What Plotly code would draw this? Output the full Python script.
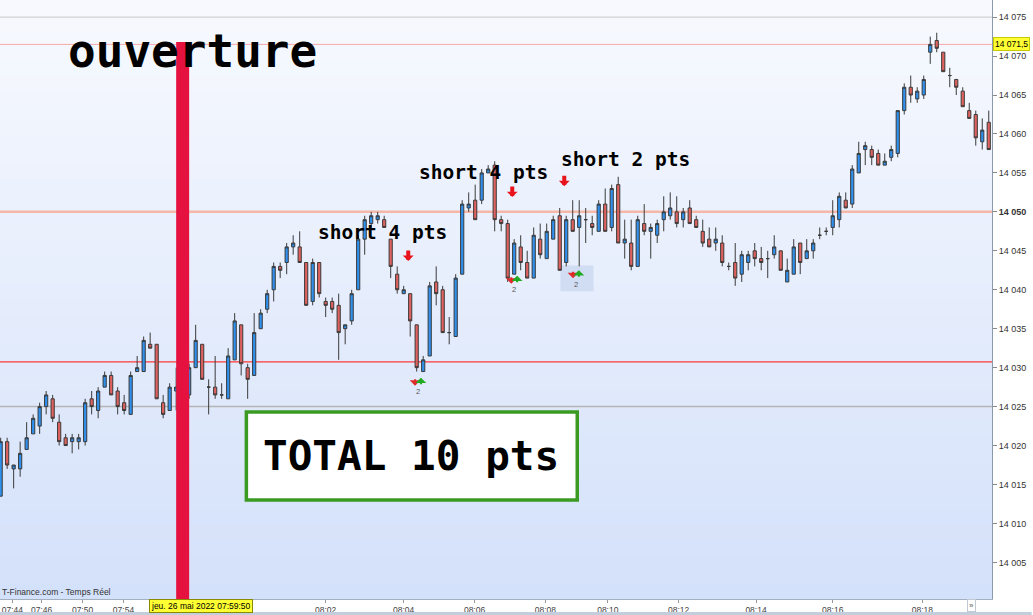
import plotly.graph_objects as go

# DAX 10s candles, 26 mai 2022, opening 08:00
opens = [
    14013.5, 14020.5, 14017.0, 14017.0, 14019.5, 14021.5, 14022.5, 14025.0, 14026.0, 14023.0,
    14021.0, 14020.5, 14020.5, 14020.5, 14026.0, 14024.5, 14027.5, 14029.0, 14027.0, 14025.5,
    14024.0, 14029.5, 14029.5, 14033.0, 14033.0, 14025.5, 14024.5, 14027.0, 14030.0, 14026.5,
    14030.0, 14033.0, 14027.5, 14027.5, 14026.5, 14026.0, 14031.0, 14035.5, 14030.0, 14029.0,
    14035.0, 14037.5, 14040.0, 14043.0, 14043.5, 14045.5, 14045.5, 14043.5, 14038.5, 14043.5,
    14038.5, 14038.5, 14038.0, 14035.0, 14036.0, 14040.0, 14046.5, 14048.5, 14049.0, 14049.0,
    14046.5, 14042.0, 14039.5, 14039.5, 14035.5, 14029.5, 14031.5, 14041.0, 14040.0, 14034.5,
    14034.0, 14042.0, 14050.5, 14051.5, 14051.5, 14055.0, 14056.0, 14049.0, 14048.5, 14042.0,
    14045.5, 14043.5, 14041.5, 14046.5, 14044.0, 14046.5, 14049.5, 14043.5, 14049.0, 14048.0,
    14049.0, 14048.5, 14047.5, 14051.0, 14048.0, 14053.5, 14046.0, 14046.0, 14043.0, 14048.5,
    14047.5, 14047.0, 14049.0, 14049.5, 14050.0, 14049.0, 14050.5, 14049.0, 14047.5, 14046.5,
    14046.0, 14046.0, 14043.0, 14043.5, 14042.0, 14043.5, 14045.0, 14044.0, 14044.0, 14044.5,
    14045.0, 14041.0, 14042.0, 14046.0, 14044.0, 14045.0, 14047.0, 14047.5, 14048.0, 14049.0,
    14051.5, 14051.0, 14055.0, 14058.0, 14058.0, 14057.5, 14056.0, 14057.0, 14057.5, 14063.0,
    14066.0, 14064.5, 14065.0, 14070.5, 14072.0, 14070.5, 14067.5, 14067.0, 14065.5, 14063.0,
    14062.5, 14059.0, 14061.5,
]
highs = [
    14021.0, 14021.0, 14017.5, 14020.5, 14023.0, 14024.0, 14025.5, 14027.0, 14026.5, 14024.0,
    14021.5, 14021.5, 14021.5, 14026.0, 14027.0, 14027.5, 14029.5, 14029.5, 14027.5, 14026.5,
    14029.5, 14031.5, 14034.0, 14034.5, 14033.0, 14026.5, 14028.0, 14030.0, 14031.0, 14030.5,
    14035.5, 14033.0, 14028.5, 14031.5, 14028.0, 14032.5, 14037.0, 14035.5, 14030.5, 14037.0,
    14037.5, 14040.0, 14043.5, 14043.5, 14046.0, 14047.0, 14047.5, 14043.5, 14044.0, 14043.5,
    14039.0, 14039.0, 14039.5, 14035.5, 14040.0, 14047.0, 14049.5, 14050.0, 14050.0, 14049.5,
    14046.5, 14043.0, 14040.5, 14039.5, 14035.5, 14031.5, 14041.0, 14043.0, 14040.5, 14036.5,
    14042.0, 14051.5, 14052.5, 14053.5, 14055.5, 14056.0, 14056.5, 14049.5, 14049.0, 14046.5,
    14047.0, 14045.0, 14048.0, 14048.5, 14048.5, 14049.5, 14050.5, 14049.5, 14051.5, 14051.5,
    14050.5, 14049.5, 14051.5, 14053.0, 14053.5, 14054.5, 14049.0, 14049.0, 14049.5, 14051.0,
    14048.5, 14049.0, 14052.0, 14052.5, 14052.0, 14050.5, 14051.5, 14049.5, 14049.0, 14048.0,
    14048.0, 14047.0, 14043.5, 14046.0, 14045.0, 14045.0, 14046.0, 14045.5, 14045.0, 14047.0,
    14045.0, 14044.0, 14046.5, 14046.0, 14046.5, 14046.5, 14048.0, 14048.0, 14051.5, 14052.5,
    14052.5, 14056.0, 14059.0, 14059.0, 14058.5, 14058.0, 14057.5, 14058.5, 14063.0, 14066.5,
    14067.5, 14066.0, 14067.5, 14072.5, 14073.0, 14070.5, 14068.5, 14067.0, 14066.0, 14064.0,
    14063.0, 14062.0, 14063.0,
]
lows = [
    14013.5, 14017.0, 14014.5, 14016.0, 14019.5, 14021.5, 14021.5, 14024.0, 14023.0, 14020.0,
    14020.0, 14019.0, 14019.5, 14020.0, 14024.0, 14023.5, 14027.5, 14026.5, 14024.0, 14024.0,
    14024.0, 14029.5, 14029.5, 14032.5, 14026.0, 14023.5, 14024.5, 14024.5, 14026.0, 14026.0,
    14030.0, 14028.5, 14024.0, 14026.0, 14026.0, 14026.0, 14031.0, 14029.0, 14026.0, 14029.0,
    14035.0, 14037.0, 14038.5, 14041.5, 14042.0, 14044.5, 14043.5, 14038.0, 14038.0, 14039.0,
    14036.5, 14037.0, 14031.0, 14033.0, 14035.5, 14040.0, 14044.5, 14048.0, 14048.5, 14048.0,
    14041.5, 14039.5, 14039.5, 14034.0, 14029.5, 14029.5, 14031.5, 14038.0, 14034.5, 14033.0,
    14034.0, 14042.0, 14050.0, 14049.0, 14051.0, 14055.0, 14047.5, 14047.5, 14041.0, 14042.0,
    14042.5, 14041.5, 14041.5, 14044.0, 14044.0, 14046.5, 14042.5, 14043.0, 14047.5, 14043.0,
    14046.0, 14047.0, 14047.5, 14047.5, 14047.5, 14046.0, 14044.0, 14042.5, 14043.0, 14047.0,
    14044.0, 14046.0, 14047.5, 14049.0, 14048.0, 14048.0, 14048.5, 14048.0, 14045.5, 14045.5,
    14045.0, 14043.0, 14042.5, 14040.5, 14041.0, 14042.5, 14043.0, 14042.5, 14041.5, 14044.0,
    14042.5, 14041.0, 14042.0, 14042.0, 14044.0, 14044.0, 14046.5, 14047.0, 14047.0, 14048.0,
    14050.5, 14050.5, 14055.0, 14056.0, 14056.0, 14056.0, 14056.0, 14056.5, 14057.0, 14062.5,
    14064.0, 14064.0, 14064.5, 14069.0, 14070.5, 14068.0, 14066.0, 14065.0, 14063.5, 14062.0,
    14058.5, 14058.0, 14058.0,
]
closes = [
    14020.5, 14017.5, 14017.5, 14019.0, 14021.0, 14023.5, 14025.0, 14026.5, 14023.5, 14020.5,
    14020.0, 14021.0, 14021.0, 14025.5, 14025.0, 14027.0, 14029.0, 14026.5, 14025.0, 14024.5,
    14029.0, 14030.0, 14033.5, 14032.5, 14026.0, 14024.0, 14027.5, 14027.5, 14027.0, 14030.0,
    14033.5, 14028.5, 14027.5, 14026.5, 14026.5, 14031.5, 14036.0, 14030.5, 14028.5, 14034.5,
    14037.0, 14039.5, 14043.0, 14042.5, 14045.5, 14046.0, 14043.5, 14038.0, 14043.5, 14039.5,
    14038.0, 14037.5, 14034.5, 14035.5, 14039.5, 14046.5, 14049.0, 14049.5, 14049.5, 14048.0,
    14043.0, 14040.0, 14040.0, 14036.0, 14030.0, 14031.0, 14040.5, 14039.5, 14034.5, 14034.5,
    14041.5, 14051.0, 14051.0, 14049.0, 14055.0, 14055.5, 14049.0, 14048.5, 14041.5, 14046.0,
    14043.5, 14041.5, 14047.0, 14044.5, 14047.5, 14049.0, 14042.5, 14049.0, 14047.5, 14049.5,
    14049.0, 14048.0, 14051.0, 14047.5, 14053.0, 14046.0, 14046.5, 14043.0, 14049.0, 14047.5,
    14048.0, 14048.5, 14050.0, 14050.5, 14048.5, 14050.0, 14048.5, 14048.0, 14046.0, 14045.5,
    14046.5, 14043.5, 14043.0, 14041.5, 14044.5, 14044.5, 14044.0, 14043.5, 14044.0, 14045.5,
    14042.5, 14042.5, 14045.5, 14043.5, 14045.0, 14046.0, 14047.0, 14047.5, 14049.5, 14052.0,
    14050.5, 14055.5, 14057.5, 14058.5, 14057.0, 14056.0, 14056.5, 14058.0, 14063.0, 14066.0,
    14065.0, 14065.5, 14067.0, 14071.5, 14071.0, 14068.0, 14067.5, 14066.0, 14063.5, 14062.0,
    14059.5, 14060.5, 14058.0,
]

# time axis labels (candle position of each label)
time_ticks = [1.8, 6.3, 12.6, 18.9, 50.0, 62.0, 72.9, 83.8, 93.4, 104.3, 116.2, 128.0, 141.8]
time_labels = ["07:44", "07:46", "07:50", "07:54", "08:02", "08:04", "08:06",
               "08:08", "08:10", "08:12", "08:14", "08:16", "08:18"]

price_ticks = [14005, 14010, 14015, 14020, 14025, 14030, 14035, 14040,
               14045, 14050, 14055, 14060, 14065, 14070, 14075]
price_labels = ["14 005", "14 010", "14 015", "14 020", "14 025", "14 030", "14 035", "14 040",
                "14 045", "<b>14 050</b>", "14 055", "14 060", "14 065", "14 070", "14 075"]

# horizontal levels
level_prices = [14075, 14071.5, 14050, 14030.75, 14025]
level_colors = ["#c8c8c8", "#f6a9a9", "#f5b8a8", "#ff3838", "#b4b4b4"]
level_widths = [1, 1, 2.5, 1.2, 1.5]

open_candle = 28.0   # 07:59:50
open_time_label = "jeu. 26 mai 2022 07:59:50"
last_price_label = "14 071,5"

# trade notes
short_x = [62.7, 78.7, 86.7]
short_y = [14043.7, 14051.9, 14053.3]
note_x = [58.7, 74.2, 96.1]
note_y = [14047.3, 14055.1, 14056.7]
note_text = ["short 4 pts", "short 4 pts", "short 2 pts"]
cover_x = [64.2, 79.0, 88.5]
cover_y = [14028.2, 14041.3, 14042.0]
cover_qty = ["2", "2", "2"]

x_range = [-0.1, 152.5]
y_range = [14000.3, 14077.2]

idx = list(range(len(opens)))

fig = go.Figure()
fig.add_trace(go.Candlestick(
    x=idx, open=opens, high=highs, low=lows, close=closes,
    increasing=dict(line=dict(color="#3a3a3a", width=1), fillcolor="#2f90ee"),
    decreasing=dict(line=dict(color="#3a3a3a", width=1), fillcolor="#e0625f"),
    hoverinfo="skip", showlegend=False,
))

shapes = []
# soft vertical gradient behind the chart
steps = 40
top, bottom = (247, 249, 254), (212, 225, 250)
for i in range(steps):
    t = i / (steps - 1)
    c = tuple(round(bottom[k] + (top[k] - bottom[k]) * t) for k in range(3))
    shapes.append(dict(type="rect", xref="paper", yref="paper", x0=0, x1=1,
                       y0=i / steps, y1=(i + 1) / steps + 0.002, layer="below",
                       line=dict(width=0), fillcolor="rgb(%d,%d,%d)" % c))

for p, col, w in zip(level_prices, level_colors, level_widths):
    shapes.append(dict(type="line", xref="paper", yref="y", x0=0, x1=1, y0=p, y1=p,
                       layer="below", line=dict(color=col, width=w)))

# light box behind the last cover
shapes.append(dict(type="rect", xref="x", yref="y", x0=cover_x[2] - 2.4, x1=cover_x[2] + 2.7,
                   y0=cover_y[2] - 2.2, y1=cover_y[2] + 1.1, layer="below",
                   line=dict(width=0), fillcolor="rgba(200,214,240,0.7)"))

# TOTAL box
shapes.append(dict(type="rect", xref="x", yref="y", x0=37.8, x1=88.7, y0=14013.0, y1=14024.3,
                   layer="above", line=dict(color="#3a9a22", width=3.5), fillcolor="white"))

# opening bar
shapes.append(dict(type="line", xref="x", yref="paper", x0=open_candle, x1=open_candle,
                   y0=-0.03, y1=0.93, layer="above", line=dict(color="#e5123f", width=13)))

# bottom tab strip
shapes.append(dict(type="rect", xref="paper", yref="paper", x0=0, x1=1.04, y0=-0.027, y1=-0.0215,
                   line=dict(width=0), fillcolor="#c3cedc"))

mono = "DejaVu Sans Mono"
ann = []
ann.append(dict(text="<b>ouverture</b>", x=29.5, y=14070.6, xref="x", yref="y", showarrow=False,
                font=dict(family=mono, size=46, color="black")))
ann.append(dict(text="<b>TOTAL 10 pts</b>", x=63.2, y=14018.6, xref="x", yref="y", showarrow=False,
                font=dict(family=mono, size=41, color="black")))
for tx, ty, tt in zip(note_x, note_y, note_text):
    ann.append(dict(text="<b>%s</b>" % tt, x=tx, y=ty, xref="x", yref="y", showarrow=False,
                    font=dict(family=mono, size=19.5, color="black")))
for sx, sy in zip(short_x, short_y):
    ann.append(dict(text="", x=sx, y=sy, xref="x", yref="y", showarrow=True, ax=0, ay=-12,
                    arrowhead=1, arrowsize=0.45, arrowwidth=4, arrowcolor="#e8141c", standoff=0))
for cx, cy, q in zip(cover_x, cover_y, cover_qty):
    ann.append(dict(text="", x=cx - 0.45, y=cy, yshift=-4, xref="x", yref="y", showarrow=True,
                    ax=0, ay=-8, arrowhead=1, arrowsize=0.9, arrowwidth=2, arrowcolor="#e02a2a",
                    standoff=0))
    ann.append(dict(text="", x=cx + 0.45, y=cy, yshift=4, xref="x", yref="y", showarrow=True,
                    ax=0, ay=8, arrowhead=1, arrowsize=0.9, arrowwidth=2, arrowcolor="#22aa22",
                    standoff=0))
    ann.append(dict(text=q, x=cx, y=cy, yshift=-10, xref="x", yref="y", showarrow=False,
                    font=dict(family="Liberation Sans", size=7.5, color="#555")))

ann.append(dict(text=last_price_label, x=1, y=level_prices[1], xref="paper", yref="y",
                xanchor="left", xshift=1, showarrow=False, bgcolor="#ffff33",
                bordercolor="#c9c900", borderwidth=1, borderpad=1,
                font=dict(family="Liberation Sans", size=8.5, color="black")))
ann.append(dict(text=open_time_label, x=open_candle + 2.8, y=-0.0115, xref="x", yref="paper",
                yanchor="middle", showarrow=False, bgcolor="#ffff33",
                bordercolor="#8a8a00", borderwidth=1, borderpad=1,
                font=dict(family="Liberation Sans", size=8.5, color="black")))
ann.append(dict(text="T-Finance.com - Temps Réel", x=0, y=0, xref="paper", yref="paper",
                xanchor="left", yanchor="bottom", showarrow=False,
                font=dict(family="Liberation Sans", size=8.5, color="#333")))
ann.append(dict(text="»", x=0.984, y=-0.0115, xref="paper", yref="paper", yanchor="middle",
                showarrow=False, bordercolor="#c0c8d4", borderwidth=1, borderpad=1,
                font=dict(family="Liberation Sans", size=8, color="#555")))

fig.update_layout(
    width=1033, height=615,
    margin=dict(l=0, r=41, t=0, b=16, autoexpand=False),
    paper_bgcolor="white", plot_bgcolor="white",
    showlegend=False,
    font=dict(family="Liberation Sans", size=9, color="#333"),
    xaxis=dict(range=x_range, tickvals=time_ticks, ticktext=time_labels,
               showgrid=False, zeroline=False, showline=True, linecolor="#a4b0c0",
               ticks="outside", ticklen=3, tickcolor="#999", tickfont=dict(size=8.5, color="#444"),
               rangeslider=dict(visible=False), fixedrange=True),
    yaxis=dict(range=y_range, side="right", tickvals=price_ticks, ticktext=price_labels,
               showgrid=False, zeroline=False, showline=True, linecolor="#8a99ab",
               ticks="outside", ticklen=4, tickcolor="#888", tickfont=dict(size=9, color="#333"),
               fixedrange=True),
    shapes=shapes,
    annotations=ann,
)

# the page's default body margin would push the figure off the window
fig.write_html("out.html", config={"displayModeBar": False},
               post_script="document.body.style.margin='0px';document.body.style.overflow='hidden';")
